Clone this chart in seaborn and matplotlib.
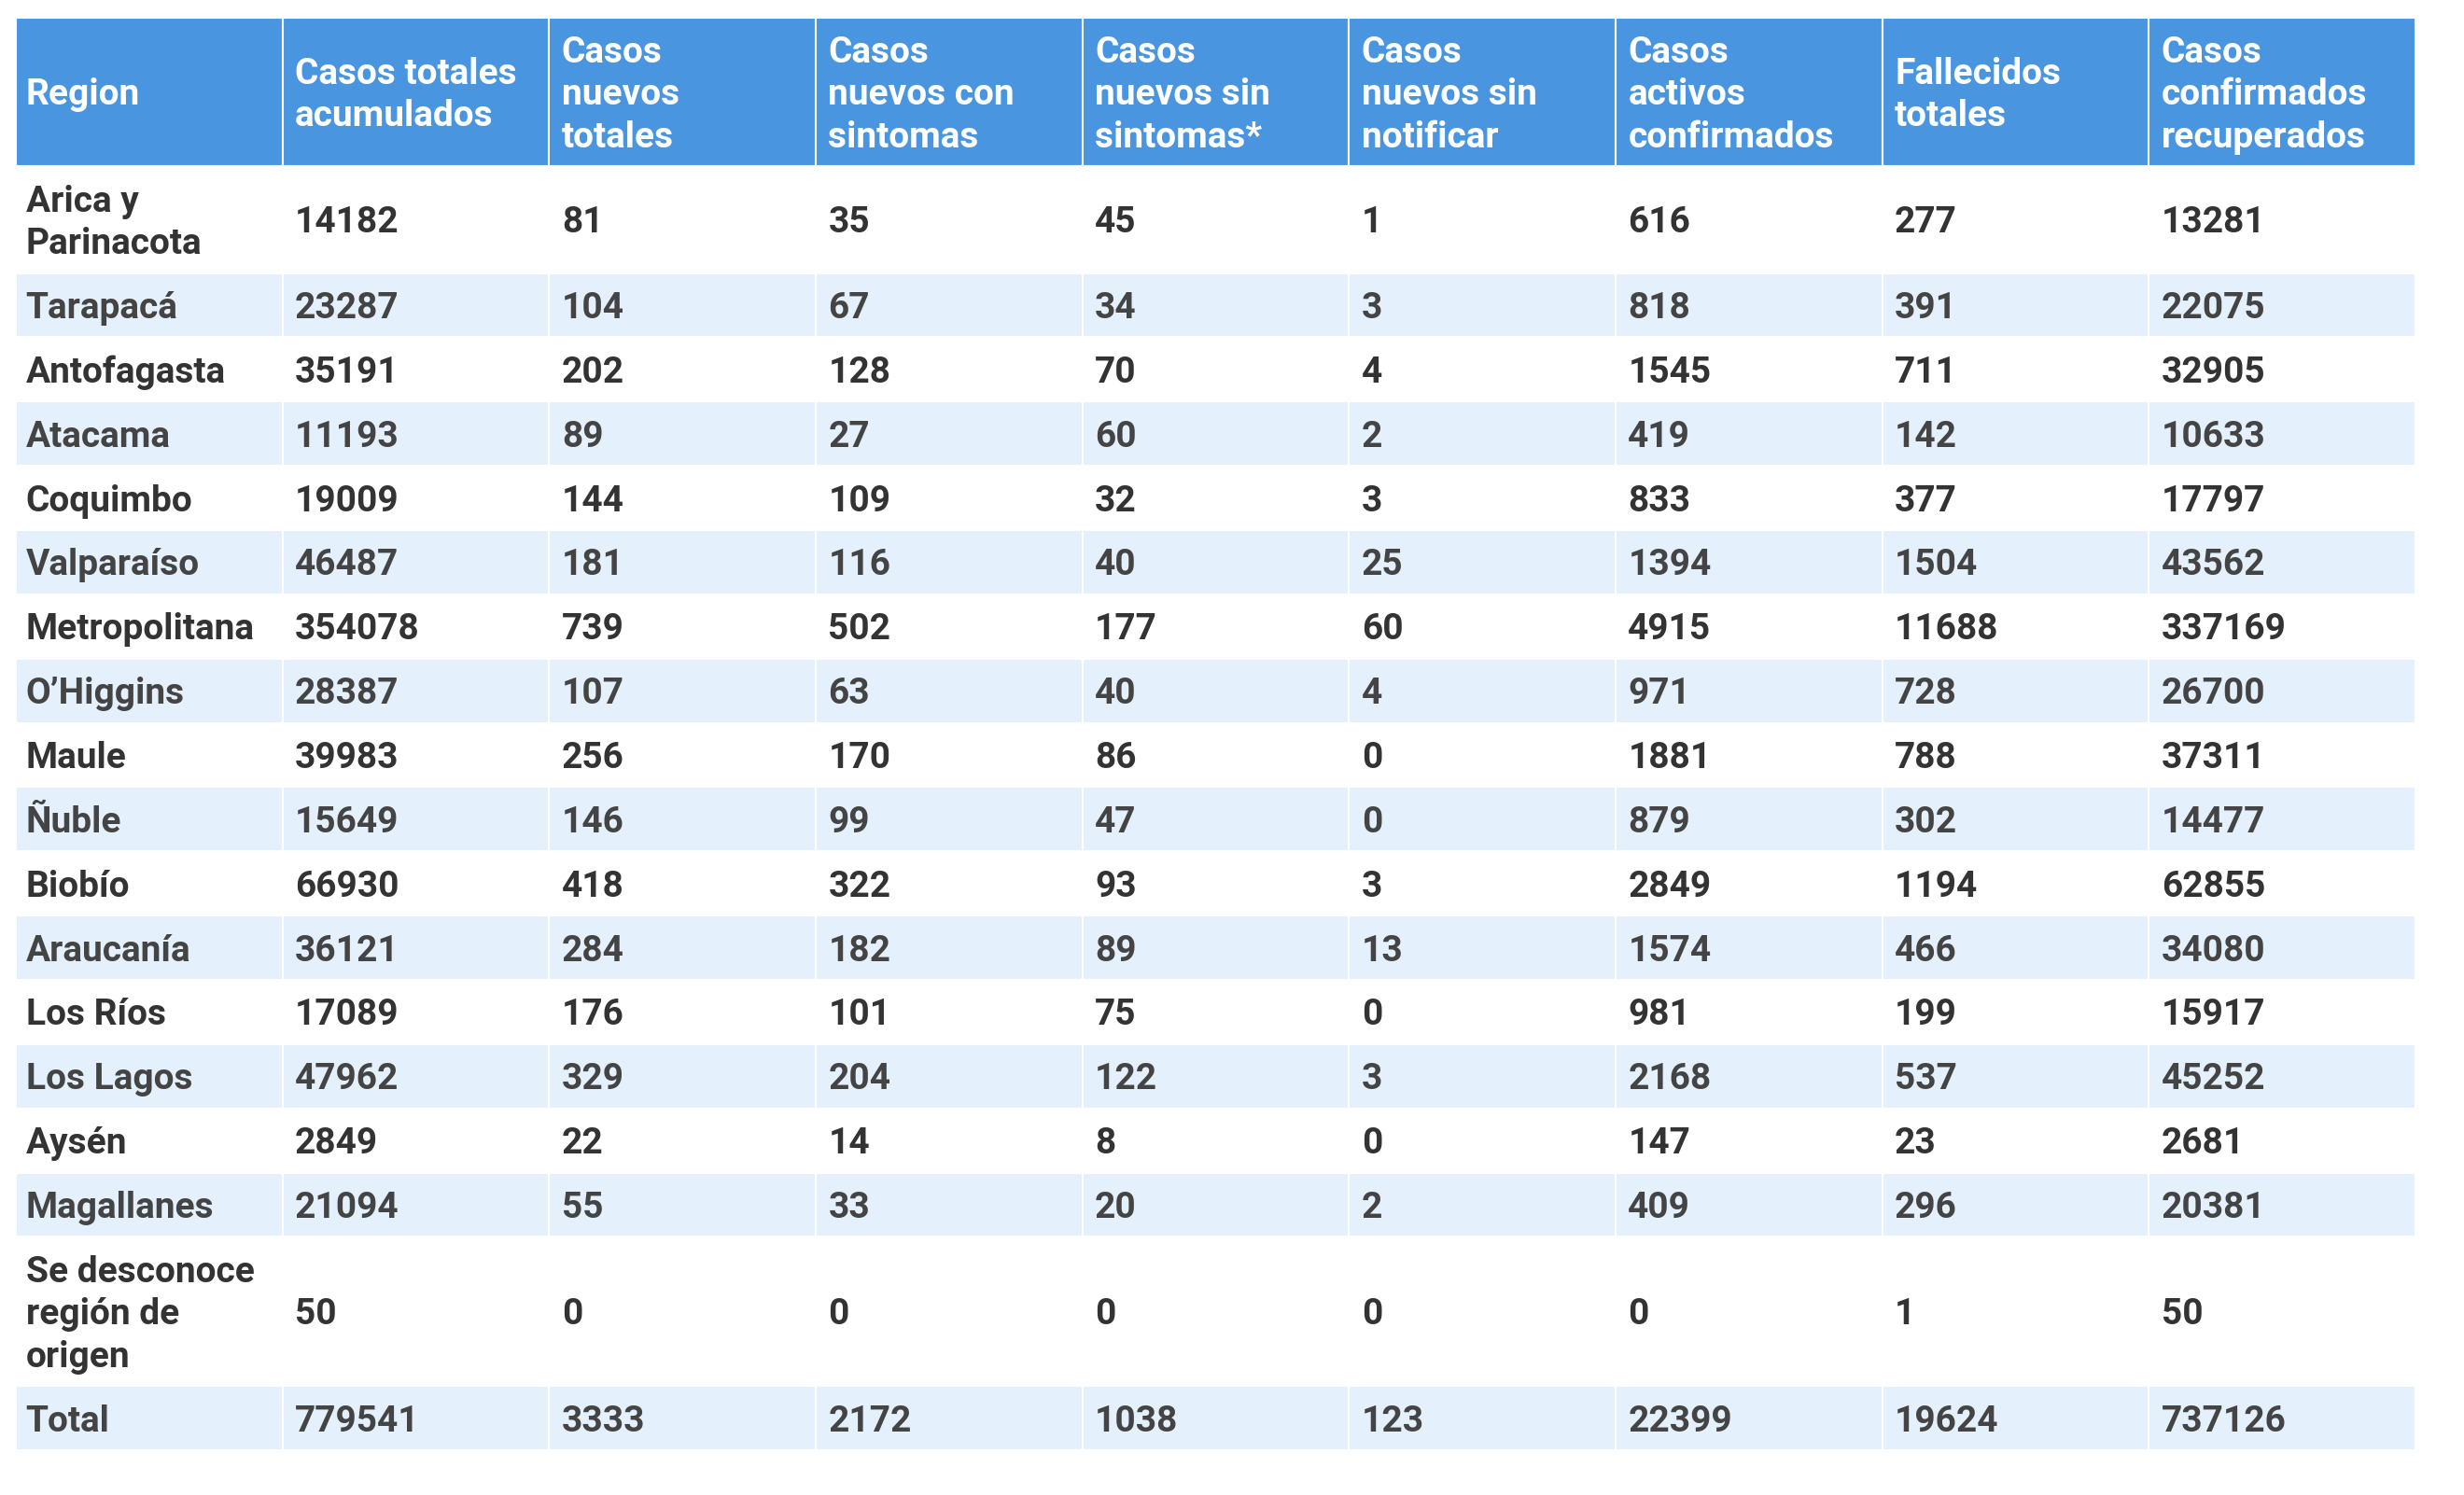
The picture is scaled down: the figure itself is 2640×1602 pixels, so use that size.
import numpy as np
import pandas as pd
import matplotlib
matplotlib.use("Agg")
import matplotlib.pyplot as plt
import seaborn as sns

# Table data
headers = ["Region", "Casos totales\nacumulados", "Casos\nnuevos\ntotales",
           "Casos\nnuevos con\nsintomas", "Casos\nnuevos sin\nsintomas*",
           "Casos\nnuevos sin\nnotificar", "Casos\nactivos\nconfirmados",
           "Fallecidos\ntotales", "Casos\nconfirmados\nrecuperados"]

regions = ["Arica y\nParinacota", "Tarapacá", "Antofagasta", "Atacama", "Coquimbo",
           "Valparaíso", "Metropolitana", "O’Higgins", "Maule", "Ñuble", "Biobío",
           "Araucanía", "Los Ríos", "Los Lagos", "Aysén", "Magallanes",
           "Se desconoce\nregión de\norigen", "Total"]

casos_totales = [14182, 23287, 35191, 11193, 19009, 46487, 354078, 28387, 39983,
                 15649, 66930, 36121, 17089, 47962, 2849, 21094, 50, 779541]
nuevos_totales = [81, 104, 202, 89, 144, 181, 739, 107, 256, 146, 418, 284, 176,
                  329, 22, 55, 0, 3333]
nuevos_con_sint = [35, 67, 128, 27, 109, 116, 502, 63, 170, 99, 322, 182, 101,
                   204, 14, 33, 0, 2172]
nuevos_sin_sint = [45, 34, 70, 60, 32, 40, 177, 40, 86, 47, 93, 89, 75, 122, 8,
                   20, 0, 1038]
sin_notificar = [1, 3, 4, 2, 3, 25, 60, 4, 0, 0, 3, 13, 0, 3, 0, 2, 0, 123]
activos = [616, 818, 1545, 419, 833, 1394, 4915, 971, 1881, 879, 2849, 1574, 981,
           2168, 147, 409, 0, 22399]
fallecidos = [277, 391, 711, 142, 377, 1504, 11688, 728, 788, 302, 1194, 466, 199,
              537, 23, 296, 1, 19624]
recuperados = [13281, 22075, 32905, 10633, 17797, 43562, 337169, 26700, 37311,
               14477, 62855, 34080, 15917, 45252, 2681, 20381, 50, 737126]

df = pd.DataFrame({
    headers[0]: regions,
    headers[1]: casos_totales,
    headers[2]: nuevos_totales,
    headers[3]: nuevos_con_sint,
    headers[4]: nuevos_sin_sint,
    headers[5]: sin_notificar,
    headers[6]: activos,
    headers[7]: fallecidos,
    headers[8]: recuperados,
})

sns.set_theme(style="white")
plt.rcParams['font.family'] = ['Roboto', 'DejaVu Sans']

HEADER_BG = "#4a95e0"
STRIPE_BG = "#e4f0fc"
LINE = 45.5   # px per text line
PAD = 23.4    # vertical padding per row
FS = 28

W, H = 2640, 1602
fig = plt.figure(figsize=(W / 100, H / 100), dpi=100)
fig.patch.set_facecolor("white")
tbl_left, tbl_right, tbl_top, tbl_bot = 17, 2588, 18.5, 1554
ax = fig.add_axes([tbl_left / W, 1 - tbl_bot / H,
                   (tbl_right - tbl_left) / W, (tbl_bot - tbl_top) / H])

ncol = len(headers)
rows = [headers] + [[r] + [str(v) for v in df.iloc[i, 1:]] for i, r in enumerate(regions)]
heights = [max(c.count("\n") + 1 for c in row) * LINE + PAD for row in rows]
tops = np.concatenate([[0], np.cumsum(heights)[:-1]])
xs = np.arange(ncol)

for i, (row, top, h) in enumerate(zip(rows, tops, heights)):
    if i == 0:
        bg, fg = HEADER_BG, "white"
    elif i % 2 == 1:
        bg, fg = "white", "#333333"
    else:
        bg, fg = STRIPE_BG, "#444444"
    ax.bar(xs + 0.5, h, bottom=top, width=1, color=bg, edgecolor="white",
           linewidth=1.5)
    for j, txt in enumerate(row):
        ax.text(j + 0.047 - (0.01 if j == 0 else 0), top + h / 2 + 3.5, txt,
                ha="left", va="center", fontsize=FS, fontweight="bold",
                color=fg, linespacing=1.29)

ax.set_xlim(0, ncol)
ax.set_ylim(sum(heights), 0)
ax.axis("off")

fig.savefig("out.png", dpi=100, facecolor="white")
